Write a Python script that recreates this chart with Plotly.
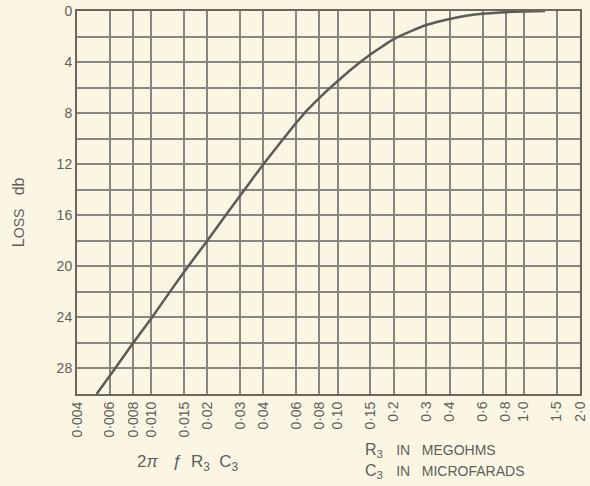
import math
import plotly.graph_objects as go

# Curve: 2*pi*f*R3*C3 vs loss in dB
x_vals = [0.0051, 0.0064, 0.008, 0.0101, 0.0126, 0.0158, 0.020, 0.0251, 0.0317,
          0.040, 0.045, 0.050, 0.056, 0.063, 0.070, 0.080, 0.090, 0.10, 0.12,
          0.15, 0.175, 0.2, 0.25, 0.3, 0.35, 0.4, 0.5, 0.6, 0.8, 1.0, 1.3]
loss_db = [30, 28, 26, 24, 22, 20, 18, 16, 14,
           12, 11.05, 10.2, 9.3, 8.4, 7.65, 6.8, 6.1, 5.5, 4.5,
           3.4, 2.75, 2.2, 1.55, 1.1, 0.82, 0.62, 0.36, 0.22, 0.09, 0.04, 0.0]

x_ticks = [0.004, 0.006, 0.008, 0.010, 0.015, 0.02, 0.03, 0.04, 0.06, 0.08, 0.10,
           0.15, 0.2, 0.3, 0.4, 0.6, 0.8, 1.0, 1.5, 2.0]
x_labels = ["0·004", "0·006", "0·008", "0·010", "0·015", "0·02", "0·03", "0·04",
            "0·06", "0·08", "0·10", "0·15", "0·2", "0·3", "0·4", "0·6", "0·8",
            "1·0", "1·5", "2·0"]
y_ticks = list(range(0, 30, 2))
y_labels = [str(v) if v % 4 == 0 else "" for v in y_ticks]

BG = "#FBF6E3"
GRID = "#86887F"
TXT = "#5E5E5A"
FONT = "Liberation Sans"
NB = "\u00a0"

fig = go.Figure()
fig.add_trace(go.Scatter(
    x=x_vals, y=loss_db, mode="lines",
    line=dict(color="#5C5C57", width=2.5, shape="spline", smoothing=0.5),
    hoverinfo="skip", showlegend=False, cliponaxis=True,
))

fig.update_layout(
    width=590, height=486,
    margin=dict(l=77, r=2, t=11, b=92),
    paper_bgcolor=BG, plot_bgcolor=BG,
    font=dict(family=FONT, color=TXT, size=13),
    showlegend=False,
)

fig.update_xaxes(
    type="log", range=[math.log10(0.004) - 1e-5, math.log10(2.0) + 1e-5],
    tickvals=x_ticks, ticktext=x_labels, tickangle=-90,
    tickfont=dict(family=FONT, size=14, color=TXT),
    ticklabeloverflow="allow",
    showgrid=True, gridcolor=GRID, gridwidth=1.5,
    showline=True, linecolor="#6E665C", linewidth=2, mirror=True,
    ticks="", zeroline=False,
)
fig.update_yaxes(
    range=[30, 0],
    tickvals=y_ticks, ticktext=y_labels,
    tickfont=dict(family=FONT, size=14, color=TXT),
    showgrid=True, gridcolor=GRID, gridwidth=1.5,
    showline=True, linecolor="#6E665C", linewidth=2, mirror=True,
    ticks="", zeroline=False,
)

fig.add_annotation(
    text="L<span style='font-size:14px'>OSS</span>" + NB * 3 + "db",
    xref="paper", yref="paper", x=-0.117, y=(394 - 212) / 383,
    xanchor="center", yanchor="middle",
    textangle=-90, showarrow=False, font=dict(size=16, color=TXT, family=FONT),
)
fig.add_annotation(
    text="2<i>π</i>" + NB * 3 + "<i>ƒ</i>" + NB * 2 + "R<sub>3</sub>" + NB * 2 + "C<sub>3</sub>",
    xref="paper", yref="paper", x=(190 - 77) / 511, y=(394 - 463) / 383,
    xanchor="center", yanchor="middle",
    showarrow=False, font=dict(size=17, color=TXT, family=FONT),
)
fig.add_annotation(
    text="R<sub>3</sub>" + NB * 3 + "<span style='font-size:14px'>IN" + NB * 3 + "MEGOHMS</span>",
    xref="paper", yref="paper", x=(368 - 77) / 511, y=(394 - 450) / 383,
    xanchor="left", yanchor="middle",
    showarrow=False, font=dict(size=16, color=TXT, family=FONT),
)
fig.add_annotation(
    text="C<sub>3</sub>" + NB * 3 + "<span style='font-size:14px'>IN" + NB * 3 + "MICROFARADS</span>",
    xref="paper", yref="paper", x=(368 - 77) / 511, y=(394 - 472) / 383,
    xanchor="left", yanchor="middle",
    showarrow=False, font=dict(size=16, color=TXT, family=FONT),
)

fig.write_html("out.html")
